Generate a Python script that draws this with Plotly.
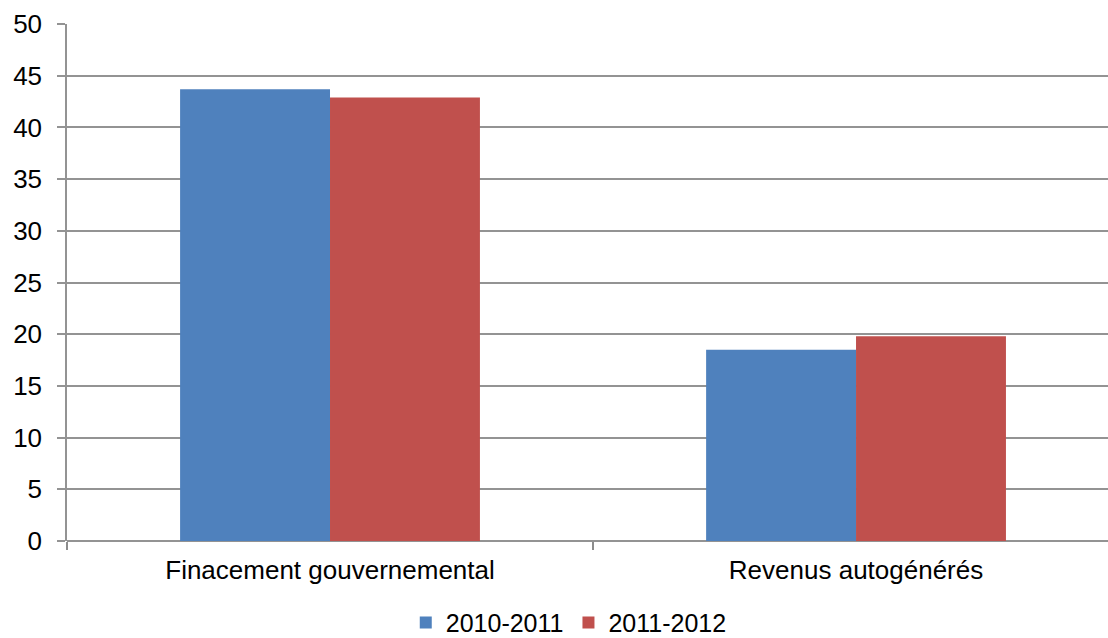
import plotly.graph_objects as go

categories = ["Finacement gouvernemental", "Revenus autogénérés"]
series_names = ["2010-2011", "2011-2012"]
values_2010_2011 = [43.7, 18.5]
values_2011_2012 = [42.9, 19.8]
y_ticks = [0, 5, 10, 15, 20, 25, 30, 35, 40, 45, 50]

colors = ["#4F81BD", "#C0504D"]
font_family = "Liberation Sans, Arial, sans-serif"

fig = go.Figure()
for name, vals, col in zip(series_names, [values_2010_2011, values_2011_2012], colors):
    fig.add_trace(go.Bar(
        x=categories, y=vals, name=name,
        marker=dict(color=col, line=dict(width=0)),
    ))

fig.update_layout(
    width=1108, height=638,
    margin=dict(l=67, r=0, t=24, b=97, autoexpand=False),
    paper_bgcolor="white", plot_bgcolor="white",
    barmode="group", bargap=0.43, bargroupgap=0,
    font=dict(family=font_family, size=26, color="#000000"),
    showlegend=True,
    legend=dict(orientation="h", x=0.482, xanchor="center", y=-0.158, yanchor="middle",
                font=dict(size=25), itemwidth=30, traceorder="normal"),
)
fig.update_xaxes(
    range=[-0.5, 1.479], showgrid=False, showline=False,
    ticks="outside", tickson="boundaries", ticklen=8, tickcolor="#8c8c8c", tickwidth=1.5,
    tickfont=dict(size=26), ticklabelstandoff=11, automargin=False, fixedrange=True,
)
fig.update_yaxes(
    range=[0, 50], tickvals=y_ticks, showgrid=True, gridcolor="#939393", gridwidth=1.5,
    showline=True, linecolor="#939393", linewidth=1.5,
    ticks="outside", ticklen=8, tickcolor="#939393", tickwidth=1.5,
    tickfont=dict(size=26), ticklabelstandoff=10, automargin=False,
    zeroline=True, zerolinecolor="#939393", zerolinewidth=1.5,
    fixedrange=True,
)

fig.write_html("out.html")
